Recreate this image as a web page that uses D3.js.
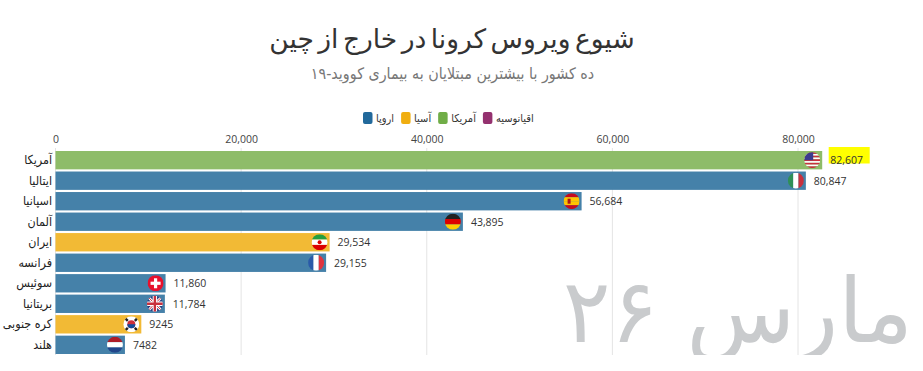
<!DOCTYPE html>
<html>
<head>
<meta charset="utf-8">
<script src="https://cdn.jsdelivr.net/npm/d3@7"></script>
<style>
    html, body { margin: 0; padding: 0; background: #fff; overflow: hidden; }
    text { font-family: "DejaVu Sans", sans-serif; }
    .small-fa { font-family: "DejaVu Sans", sans-serif; font-stretch: condensed; }
    .tick text, .val { font-family: "Open Sans", sans-serif; }
</style>
</head>
<body>
<div id="chart"></div>
<script>
const countries = ['آمریکا', 'ایتالیا', 'اسپانیا', 'آلمان', 'ایران', 'فرانسه', 'سوئیس', 'بریتانیا', 'کره جنوبی', 'هلند'];
const cases = [82607, 80847, 56684, 43895, 29534, 29155, 11860, 11784, 9245, 7482];
const regions = ['آمریکا', 'اروپا', 'اروپا', 'اروپا', 'آسیا', 'اروپا', 'اروپا', 'اروپا', 'آسیا', 'اروپا'];
const flags = ['us', 'it', 'es', 'de', 'ir', 'fr', 'ch', 'gb', 'kr', 'nl'];
const xTicks = [0, 20000, 40000, 60000, 80000];
const legendRegions = ['اروپا', 'آسیا', 'آمریکا', 'اقیانوسیه'];
const legendColors = ['#22699b', '#f0ae10', '#70ad47', '#94316f'];
const barColors = {'آمریکا': '#8aba64', 'اروپا': '#3f7da6', 'آسیا': '#f2b82e'};

const title = 'شیوع ویروس کرونا در خارج از چین';
const subtitle = 'ده کشور با بیشترین مبتلایان به بیماری کووید-۱۹';
const dateLabel = 'مارس ۲۶';

const width = 923, height = 371;
const margin = {top: 151, right: 0, bottom: 17, left: 55.5};

const svg = d3.select('#chart').append('svg')
    .attr('width', width)
    .attr('height', height);

const x = d3.scaleLinear().domain([0, 80000]).range([margin.left, 798]);
const y = d3.scaleBand().domain(countries)
    .range([margin.top, height - margin.bottom])
    .paddingInner(0.105);

// Title and subtitle
svg.append('text')
    .attr('x', 452).attr('y', 48)
    .attr('text-anchor', 'middle').attr('direction', 'rtl')
    .attr('font-size', 26.5).attr('word-spacing', -4).attr('fill', '#333')
    .text(title);

svg.append('text')
    .attr('class', 'small-fa')
    .attr('x', 452.5).attr('y', 79)
    .attr('text-anchor', 'middle').attr('direction', 'rtl')
    .attr('font-size', 15.9).attr('fill', '#777')
    .text(subtitle);

// Legend, laid out left to right from the blue swatch
let legendX = 363;
legendRegions.forEach((r, i) => {
    svg.append('rect')
        .attr('x', legendX).attr('y', 112)
        .attr('width', 9.5).attr('height', 12).attr('rx', 2)
        .attr('fill', legendColors[i]);
    const t = svg.append('text')
        .attr('class', 'small-fa')
        .attr('x', legendX + 13).attr('y', 122)
        .attr('font-size', 11).attr('fill', '#333')
        .text(r);
    legendX += 13 + t.node().getComputedTextLength() + 7;
});

// Big date label sits behind everything and is cut off at the chart bottom
svg.append('clipPath').attr('id', 'date-clip')
    .append('rect').attr('width', width).attr('height', 355);

svg.append('text')
    .attr('clip-path', 'url(#date-clip)')
    .attr('x', 913).attr('y', 342)
    .attr('direction', 'rtl').attr('text-anchor', 'start')
    .attr('font-size', 89).attr('fill', '#c9cbcd')
    .text(dateLabel);

// Axis
const grid = svg.append('g');
grid.selectAll('line').data(xTicks).enter().append('line')
    .attr('x1', d => x(d)).attr('x2', d => x(d))
    .attr('y1', 148).attr('y2', 355)
    .attr('stroke', '#e4e4e4');

const xAxis = svg.append('g')
    .attr('transform', 'translate(0,146)')
    .call(d3.axisTop(x).tickValues(xTicks).tickSize(0).tickFormat(d3.format(',')));
xAxis.select('.domain').remove();
xAxis.selectAll('text').attr('font-size', 10.5).attr('fill', '#444');

// Bars
svg.selectAll('.bar').data(countries).enter().append('rect')
    .attr('class', 'bar')
    .attr('x', x(0))
    .attr('y', d => y(d))
    .attr('width', (d, i) => x(cases[i]) - x(0))
    .attr('height', y.bandwidth())
    .attr('fill', (d, i) => barColors[regions[i]])
    .attr('fill-opacity', 0.97);

// Country names
svg.selectAll('.name').data(countries).enter().append('text')
    .attr('class', 'name small-fa')
    .attr('x', 52)
    .attr('y', d => y(d) + y.bandwidth() / 2 + 4)
    .attr('text-anchor', 'end')
    .attr('font-size', 12.4).attr('fill', '#222')
    .text(d => d);

// Highlight behind the top value
svg.append('rect')
    .attr('x', x(cases[0]) + 6.5).attr('y', 147)
    .attr('width', 41).attr('height', 16.5)
    .attr('fill', '#ffff00');

// Values
const fmt = d3.format(',');
svg.selectAll('.val').data(countries).enter().append('text')
    .attr('class', 'val')
    .attr('x', (d, i) => x(cases[i]) + 8)
    .attr('y', d => y(d) + y.bandwidth() / 2 + 4)
    .attr('font-size', 10.5).attr('fill', '#333')
    .text((d, i) => cases[i] >= 10000 ? fmt(cases[i]) : String(cases[i]));

// Flags, drawn in a local box of -8..8 and clipped to a circle
svg.append('clipPath').attr('id', 'flag-clip')
    .append('circle').attr('r', 8);

function stripes(g, colors, vertical) {
    const s = d3.scaleBand().domain(d3.range(colors.length)).range([-8, 8]);
    colors.forEach((c, i) => {
        g.append('rect')
            .attr('x', vertical ? s(i) : -8).attr('y', vertical ? -8 : s(i))
            .attr('width', vertical ? s.bandwidth() : 16)
            .attr('height', vertical ? 16 : s.bandwidth())
            .attr('fill', c);
    });
}

const flagDraw = {
    us(g) {
        stripes(g, ['#c8313e', '#fff', '#c8313e', '#fff', '#c8313e', '#fff', '#c8313e', '#fff', '#c8313e'], false);
        g.append('rect').attr('x', -8).attr('y', -8).attr('width', 9).attr('height', 8).attr('fill', '#3c3b8e');
    },
    it(g) { stripes(g, ['#2f8f57', '#fff', '#c8313e'], true); },
    es(g) {
        stripes(g, ['#c60b1e', '#ffc400', '#ffc400', '#c60b1e'], false);
        g.append('rect').attr('x', -4).attr('y', -2.5).attr('width', 3).attr('height', 5).attr('fill', '#ad1519');
    },
    de(g) { stripes(g, ['#222', '#d00', '#ffce00'], false); },
    ir(g) {
        stripes(g, ['#239f40', '#fff', '#da0000'], false);
        g.append('circle').attr('r', 2).attr('fill', '#da0000');
    },
    fr(g) { stripes(g, ['#2a5aa8', '#fff', '#e0343f'], true); },
    ch(g) {
        g.append('rect').attr('x', -8).attr('y', -8).attr('width', 16).attr('height', 16).attr('fill', '#e8112d');
        g.append('rect').attr('x', -5).attr('y', -1.6).attr('width', 10).attr('height', 3.2).attr('fill', '#fff');
        g.append('rect').attr('x', -1.6).attr('y', -5).attr('width', 3.2).attr('height', 10).attr('fill', '#fff');
    },
    gb(g) {
        g.append('rect').attr('x', -8).attr('y', -8).attr('width', 16).attr('height', 16).attr('fill', '#2b3f80');
        g.append('path').attr('d', 'M-8,-8L8,8M8,-8L-8,8').attr('stroke', '#fff').attr('stroke-width', 2.6);
        g.append('path').attr('d', 'M-8,-8L8,8M8,-8L-8,8').attr('stroke', '#c8313e').attr('stroke-width', 1);
        g.append('path').attr('d', 'M0,-8V8M-8,0H8').attr('stroke', '#fff').attr('stroke-width', 4.4);
        g.append('path').attr('d', 'M0,-8V8M-8,0H8').attr('stroke', '#c8313e').attr('stroke-width', 2.4);
    },
    kr(g) {
        g.append('rect').attr('x', -8).attr('y', -8).attr('width', 16).attr('height', 16).attr('fill', '#fff');
        g.append('path').attr('d', 'M-6,-6L-3.5,-3.5M6,-6L3.5,-3.5M-6,6L-3.5,3.5M6,6L3.5,3.5')
            .attr('stroke', '#222').attr('stroke-width', 2.4);
        g.append('circle').attr('r', 4).attr('fill', '#cd2e3a');
        g.append('path').attr('d', 'M-4,0A4,4 0 0 0 4,0Z').attr('fill', '#0f4c9c');
    },
    nl(g) { stripes(g, ['#ae1c28', '#fff', '#21468b'], false); }
};

countries.forEach((c, i) => {
    const g = svg.append('g')
        .attr('transform', `translate(${x(cases[i]) - 10},${y(c) + y.bandwidth() / 2})`);
    const inner = g.append('g').attr('clip-path', 'url(#flag-clip)');
    flagDraw[flags[i]](inner);
});
</script>
</body>
</html>
